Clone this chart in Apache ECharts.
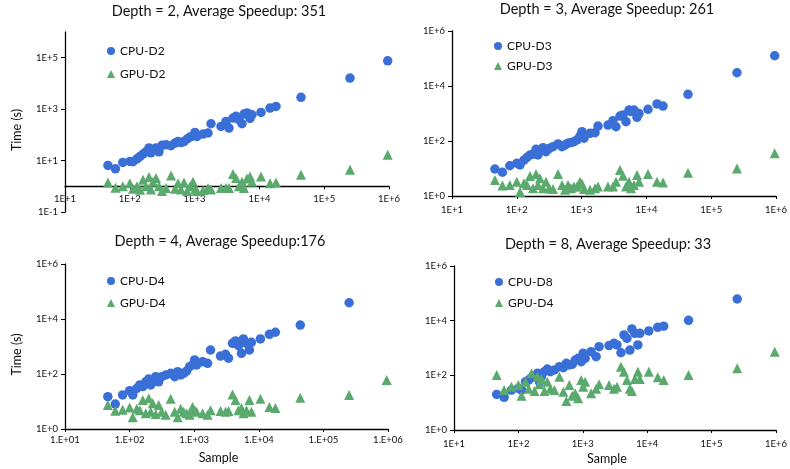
<!DOCTYPE html>
<html>
<head>
<meta charset="utf-8">
<script src="https://cdn.jsdelivr.net/npm/echarts@6/dist/echarts.min.js"></script>
<style>
  html, body { margin: 0; padding: 0; background: #fff; }
  #chart { width: 790px; height: 469px; }
</style>
</head>
<body>
<div id="chart"></div>
<script>
// sample sizes, shared by the four runs
var samples = [46, 60, 78, 100, 112, 129, 144, 160, 178, 198,
    212, 228, 254, 282, 314, 362, 433, 499, 555, 617,
    686, 763, 849, 944, 1014, 1089, 1348, 1611, 1791, 2555,
    3052, 3394, 3915, 4355, 4844, 5388, 5783, 6439, 7160, 7687,
    10590, 14580, 18040, 43850, 250000, 955000];

// time (s), depth = 2
var cpuD2 = [6.5, 4.8, 8.5, 9.2, 9, 11.7, 14.5, 18, 22, 31,
    20, 26, 31, 22, 39, 41, 38, 48, 55, 50,
    55, 69, 82, 92, 124, 87, 107, 118, 270, 213,
    333, 184, 450, 525, 387, 270, 645, 710, 437, 605,
    745, 1100, 1270, 2870, 16200, 76000];
var gpuD2 = [1.4, 0.87, 1.0, 1.3, 0.8, 1.0, 0.73, 1.8, 1.0, 2.3,
    0.75, 1.5, 2.1, 1.0, 0.65, 0.85, 2.6, 0.8, 1.3, 0.75,
    1.4, 0.65, 1.0, 1.5, 0.75, 0.65, 0.7, 0.85, 0.75, 0.85,
    0.85, 0.85, 3.0, 2.1, 1.0, 1.5, 0.85, 2.0, 2.4, 1.5,
    2.4, 1.3, 1.4, 2.8, 4.4, 16.7];

// depth = 3
var cpuD3 = [9.6, 7.3, 12.6, 15.5, 13.5, 20, 25.6, 31, 33, 50,
    31, 41, 57, 41, 53, 62, 78, 62, 71, 83,
    88, 94, 109, 152, 218, 126, 190, 200, 350, 380,
    550, 330, 810, 890, 505, 1340, 1170, 1340, 725, 1000,
    1420, 2230, 1870, 4990, 30300, 126000];
var gpuD3 = [3.8, 2.4, 2.5, 3.3, 1.4, 2.9, 2.5, 5.3, 1.9, 6.3,
    2.5, 4.4, 1.9, 3.3, 1.9, 1.8, 6.3, 2.5, 1.7, 2.5,
    1.9, 2.2, 2.2, 3.3, 2.8, 1.8, 1.7, 1.9, 2.2, 2.2,
    2.2, 3.3, 8.8, 5.5, 2.2, 3.3, 1.9, 2.5, 5.8, 3.3,
    6.3, 3.3, 3.1, 7.0, 10, 35.7];

// depth = 4
var cpuD4 = [15, 8.1, 17.3, 24.7, 17.3, 30, 40, 35, 52, 66,
    40, 52, 80, 52, 80, 92, 106, 80, 121, 92,
    106, 128, 185, 213, 324, 213, 280, 245, 745, 450,
    523, 375, 1310, 1590, 1070, 565, 1880, 1310, 745, 1420,
    1880, 2770, 3300, 6040, 39000, null];
var gpuD4 = [7.4, 4.6, 5.0, 6.1, 2.7, 5.5, 4.8, 11.3, 3.7, 13,
    4.2, 8.6, 3.5, 7.4, 4.2, 3.3, 12.5, 4.2, 2.7, 5.5,
    4.2, 3.7, 3.3, 6.3, 4.8, 4.2, 3.7, 3.3, 4.8, 4.5,
    4.2, 4.5, 18, 11.3, 4.8, 5.8, 3.7, 4.8, 11.3, 4.2,
    12.5, 6.3, 5.8, 13.8, 17.3, 60];

// depth = 8
var cpuD8 = [20, 15.7, 29, 33.5, 29, 58, 67, 82, 89, 118,
    58, 89, 136, 170, 136, 157, 207, 190, 275, 240,
    254, 363, 420, 315, 645, 420, 735, 480, 1120, 1230,
    1480, 1300, 670, 3000, 2250, 840, 5000, 3450, 1300, 3450,
    4200, 5700, 6300, 10300, 62000, null];
var gpuD8 = [102, 29, 38, 44, 18, 58, 32, 118, 27, 89,
    47, 74, 27, 58, 32, 29, 89, 25, 11.5, 44,
    18, 22, 14.5, 67, 38, 58, 22, 32, 47, 44,
    32, 38, 207, 136, 67, 32, 27, 74, 136, 74,
    136, 85, 67, 102, 180, 730];

var titles = ['Depth = 2, Average Speedup: 351', 'Depth = 3, Average Speedup: 261',
    'Depth = 4, Average Speedup:176', 'Depth = 8, Average Speedup: 33'];
var cpuNames = ['CPU-D2', 'CPU-D3', 'CPU-D4', 'CPU-D8'];
var gpuNames = ['GPU-D2', 'GPU-D3', 'GPU-D4', 'GPU-D4'];
var cpuData = [cpuD2, cpuD3, cpuD4, cpuD8];
var gpuData = [gpuD2, gpuD3, gpuD4, gpuD8];

var blue = '#3a6fd8';
var green = '#5aaa6e';
var font = 'Lato, "Liberation Sans", sans-serif';

function pairs(ys) {
    var out = [];
    for (var i = 0; i < samples.length; i++) {
        if (ys[i] != null) out.push([samples[i], ys[i]]);
    }
    return out;
}

function expLabel(v, dotted) {
    var e = Math.round(Math.log10(v));
    var sign = e < 0 ? '-' : '+';
    var n = Math.abs(e);
    if (dotted) return '1.E' + sign + (n < 10 ? '0' : '') + n;
    return '1E' + sign + n;
}

// panel boxes: left, top, width, height
var boxes = [
    {left: 65, top: 32, width: 324, height: 180},
    {left: 452, top: 31, width: 326, height: 165},
    {left: 65, top: 264, width: 323, height: 165},
    {left: 454, top: 266, width: 324, height: 164}
];
var titlePos = [[219, 4], [607, 2], [220, 234], [608, 237]];
var legendPos = [[107, 45, 11], [494, 40, 8], [107, 275, 10], [495, 276, 9]];
var yMin = [0.1, 1, 1, 1];
var xLabelMargin = [8, 9, 6, 9];
var axisLine = {lineStyle: {color: '#000', width: 1.3}};

var option = {
    animation: false,
    textStyle: {fontFamily: font},
    title: [], legend: [], grid: [], xAxis: [], yAxis: [], series: []
};

for (var p = 0; p < 4; p++) {
    option.title.push({
        text: titles[p],
        left: titlePos[p][0],
        top: titlePos[p][1],
        textAlign: 'center',
        padding: 0,
        textStyle: {fontFamily: font, fontSize: 14.5, fontWeight: 'normal', color: '#111'}
    });
    option.legend.push({
        orient: 'vertical',
        left: legendPos[p][0],
        top: legendPos[p][1],
        padding: 0,
        itemGap: legendPos[p][2],
        itemWidth: 8,
        itemHeight: 8,
        textStyle: {fontFamily: font, fontSize: 12, color: '#111'},
        data: [
            {name: cpuNames[p], icon: 'circle'},
            {name: gpuNames[p], icon: 'triangle'}
        ]
    });
    option.grid.push(boxes[p]);
    option.xAxis.push({
        type: 'log',
        gridIndex: p,
        min: 10,
        max: 1e6,
        interval: 1,
        offset: p === 0 ? -25.7 : 0,
        name: p >= 2 ? 'Sample' : '',
        nameLocation: 'middle',
        nameGap: 22,
        nameTextStyle: {fontSize: 12.5, color: '#111', padding: [0, 16, 0, 0]},
        axisLine: axisLine,
        axisTick: {length: 3, lineStyle: {color: '#000'}},
        splitLine: {show: false},
        minorTick: {show: false},
        axisLabel: {
            fontSize: 9.5,
            color: '#111',
            margin: xLabelMargin[p],
            formatter: (function (dotted) {
                return function (v) { return expLabel(v, dotted); };
            })(p === 2)
        }
    });
    option.yAxis.push({
        type: 'log',
        gridIndex: p,
        min: yMin[p],
        max: 1e6,
        interval: 2,
        name: (p === 0 || p === 2) ? 'Time (s)' : '',
        nameLocation: 'middle',
        nameGap: 42,
        nameTextStyle: {fontSize: 12.5, color: '#111', padding: [0, 16, 0, 0]},
        axisLine: axisLine,
        axisTick: {length: 4, lineStyle: {color: '#000'}},
        splitLine: {show: false},
        axisLabel: {
            fontSize: 9.5,
            color: '#111',
            margin: 7,
            showMaxLabel: p !== 0,
            formatter: function (v) { return expLabel(v, false); }
        }
    });
    option.series.push({
        name: cpuNames[p],
        type: 'scatter',
        xAxisIndex: p,
        yAxisIndex: p,
        symbol: 'circle',
        symbolSize: 9.5,
        itemStyle: {color: blue, opacity: 1},
        data: pairs(cpuData[p])
    });
    option.series.push({
        name: gpuNames[p],
        type: 'scatter',
        xAxisIndex: p,
        yAxisIndex: p,
        symbol: 'triangle',
        symbolSize: 10,
        itemStyle: {color: green, opacity: 1},
        data: pairs(gpuData[p])
    });
}

var myChart = echarts.init(document.getElementById('chart'));
myChart.setOption(option);
</script>
</body>
</html>
